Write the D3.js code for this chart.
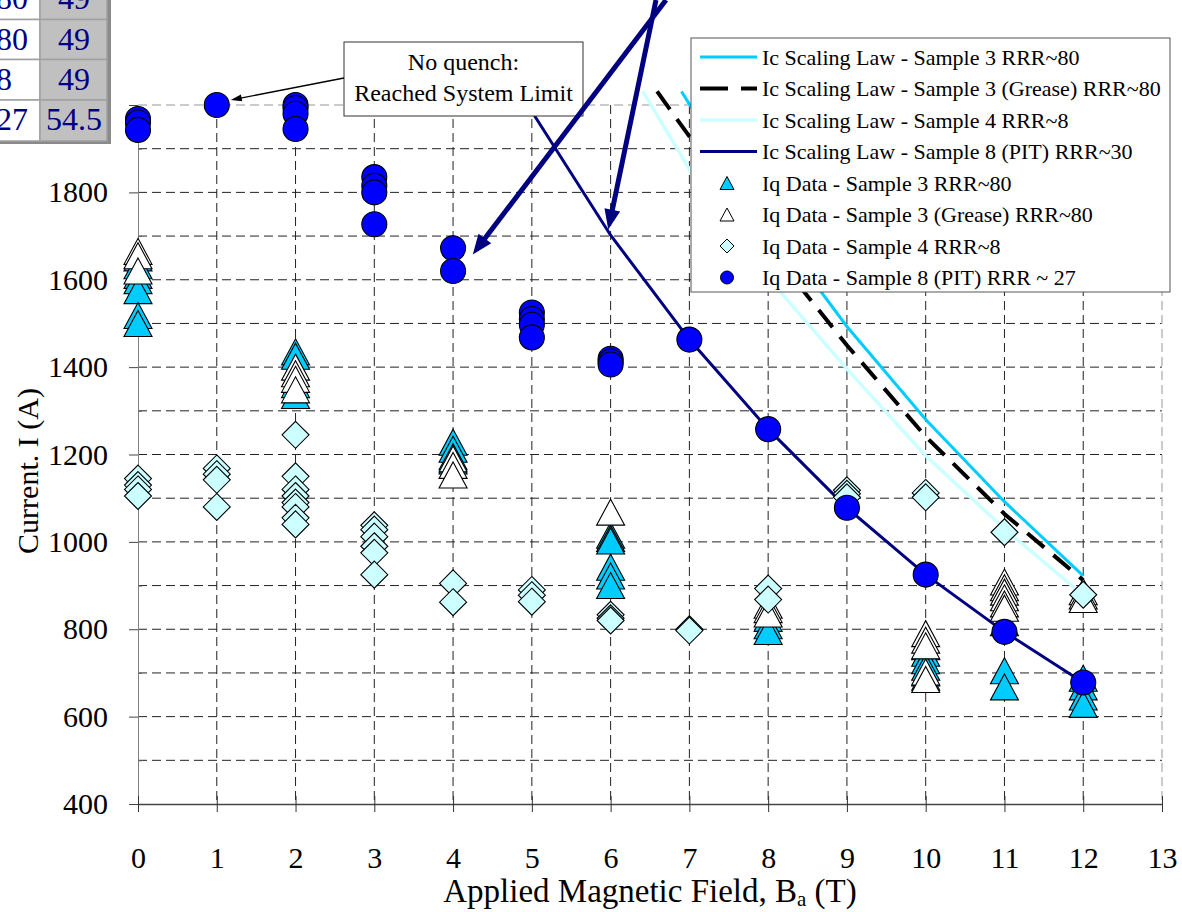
<!DOCTYPE html>
<html>
<head>
<meta charset="utf-8">
<script src="https://cdn.jsdelivr.net/npm/d3@7"></script>
<style>
  body { margin: 0; background: #fff; }
  svg { display: block; }
</style>
</head>
<body>
<svg id="chart" width="1182" height="912"></svg>
<script>
// ---------- data ----------
const FIELD_TICKS = d3.range(0, 14);                       // B (T)
const CURRENT_TICKS = [400, 600, 800, 1000, 1200, 1400, 1600, 1800, 2000];
const CURRENT_MINOR = [500, 700, 900, 1100, 1300, 1500, 1700, 1900];

// Ic scaling laws, [B (T), I (A)]
const icSample3       = [[6.9, 2031], [7, 2002], [8, 1735], [9, 1493], [10, 1280], [11, 1092], [12, 922]];
const icSample3Grease = [[6.59, 2031], [7, 1928], [8, 1675], [9, 1450], [10, 1241], [11, 1064], [12, 912]];
const icSample4       = [[6.41, 2031], [7, 1853], [8, 1605], [9, 1396], [10, 1197], [11, 1030], [12, 878]];
const icSample8       = [[5, 1985], [6, 1702], [7, 1463], [8, 1258], [9, 1078], [10, 925], [11, 794], [12, 678]];

// Quench current data, [B (T), I (A)]
const iqSample3 = [
  [0, 1650], [0, 1632], [0, 1610], [0, 1598], [0, 1575], [0, 1518], [0, 1500],
  [2, 1435], [2, 1425], [2, 1360], [2, 1335],
  [4, 1228], [4, 1212], [4, 1195], [4, 1185],
  [6, 1015], [6, 1008], [6, 1002], [6, 942], [6, 922], [6, 900],
  [8, 825], [8, 808], [8, 795],
  [10, 760], [10, 745], [10, 728], [10, 713], [10, 700], [10, 690],
  [11, 815], [11, 705], [11, 668],
  [12, 688], [12, 668], [12, 645], [12, 628]
];
const iqSample3Grease = [
  [0, 1665], [0, 1655], [0, 1620],
  [2, 1400], [2, 1385], [2, 1372], [2, 1348],
  [4, 1190], [4, 1175], [4, 1153],
  [6, 1068],
  [8, 855], [8, 845], [8, 835],
  [10, 790], [10, 775], [10, 762], [10, 702], [10, 685],
  [11, 908], [11, 895], [11, 885], [11, 872], [11, 858], [11, 848],
  [12, 886], [12, 876], [12, 868]
];
const iqSample4 = [
  [0, 1145], [0, 1130], [0, 1120], [0, 1105],
  [1, 1168], [1, 1155], [1, 1142], [1, 1080],
  [2, 1245], [2, 1150], [2, 1120], [2, 1105], [2, 1090], [2, 1080], [2, 1055], [2, 1040],
  [3, 1038], [3, 1028], [3, 1012], [3, 990], [3, 975], [3, 925],
  [4, 905], [4, 862],
  [5, 890], [5, 878], [5, 863],
  [6, 833], [6, 825], [6, 820],
  [7, 800], [7, 797],
  [8, 893], [8, 868],
  [9, 1118], [9, 1110], [9, 1102],
  [10, 1112], [10, 1102],
  [11, 1022],
  [12, 879]
];
const iqSample8 = [
  [0, 1968], [0, 1960], [0, 1943],
  [1, 2000],
  [2, 2000], [2, 1993], [2, 1980], [2, 1945],
  [3, 1835], [3, 1815], [3, 1800], [3, 1727],
  [4, 1672], [4, 1620],
  [5, 1525], [5, 1510], [5, 1497], [5, 1468],
  [6, 1419], [6, 1413], [6, 1406],
  [7, 1463], [8, 1258], [9, 1078], [10, 925], [11, 794], [12, 678]
];

const legendLabels = [
  "Ic Scaling Law - Sample 3 RRR~80",
  "Ic Scaling Law - Sample 3 (Grease) RRR~80",
  "Ic Scaling Law - Sample 4 RRR~8",
  "Ic Scaling Law - Sample 8 (PIT) RRR~30",
  "Iq Data - Sample 3 RRR~80",
  "Iq Data - Sample 3 (Grease) RRR~80",
  "Iq Data - Sample 4 RRR~8",
  "Iq Data - Sample 8 (PIT) RRR ~ 27"
];

// RRR / value table in the corner
const tableRrr = ["80", "80", "8", "27"];
const tableValue = ["49", "49", "49", "54.5"];

const noteLines = ["No quench:", "Reached System Limit"];

// ---------- drawing ----------
const FONT = "'Liberation Serif','Times New Roman',serif";
const svg = d3.select("#chart");
const x = d3.scaleLinear().domain([0, 13]).range([138, 1162]);
const y = d3.scaleLinear().domain([400, 2000]).range([804, 105]);

// gridlines
const grid = svg.append("g");
grid.selectAll("line.h").data(d3.range(500, 2000, 100)).join("line").attr("class", "h")
  .attr("x1", x(0)).attr("x2", x(13)).attr("y1", d => y(d)).attr("y2", d => y(d))
  .attr("stroke", "#222").attr("stroke-width", 1).attr("stroke-dasharray", "9,5");
grid.selectAll("line.v").data(d3.range(1, 13)).join("line").attr("class", "v")
  .attr("x1", d => x(d)).attr("x2", d => x(d)).attr("y1", y(2000)).attr("y2", y(400))
  .attr("stroke", "#222").attr("stroke-width", 1).attr("stroke-dasharray", "9,5");
// plot-area border (top and right)
grid.append("line").attr("x1", x(0)).attr("x2", x(13)).attr("y1", y(2000)).attr("y2", y(2000))
  .attr("stroke", "#bbb").attr("stroke-width", 1.5).attr("stroke-dasharray", "9,5");
grid.append("line").attr("x1", x(13)).attr("x2", x(13)).attr("y1", y(2000)).attr("y2", y(400))
  .attr("stroke", "#bbb").attr("stroke-width", 1.5).attr("stroke-dasharray", "9,5");

// axes (the 2000 label sits under the corner table, so it is left blank)
const yAxis = svg.append("g").attr("transform", `translate(${x(0)},0)`)
  .call(d3.axisLeft(y).tickValues(CURRENT_TICKS).tickFormat(d => d === 2000 ? "" : d3.format("d")(d))
    .tickSize(9).tickSizeOuter(0).tickPadding(21));
yAxis.attr("font-family", FONT).attr("font-size", 30);
yAxis.select(".domain").attr("stroke", "#808080");
yAxis.selectAll(".tick line").attr("stroke", "#444");
yAxis.selectAll(".tick text").attr("fill", "#000");

const yMinor = svg.append("g").attr("transform", `translate(${x(0)},0)`)
  .call(d3.axisRight(y).tickValues(CURRENT_MINOR).tickSize(4).tickFormat(""));
yMinor.select(".domain").remove();
yMinor.selectAll(".tick line").attr("stroke", "#666");

const xAxis = svg.append("g").attr("transform", `translate(0,${y(400)})`)
  .call(d3.axisBottom(x).tickValues(FIELD_TICKS).tickSize(8).tickSizeOuter(0));
xAxis.attr("font-family", FONT).attr("font-size", 30);
xAxis.select(".domain").attr("stroke", "#444").attr("stroke-width", 1.6);
xAxis.selectAll(".tick line").attr("y1", -8).attr("stroke", "#333");
xAxis.selectAll(".tick text").attr("y", 64).attr("dy", null).attr("fill", "#000");

// axis titles
const xTitle = svg.append("text").attr("x", 650).attr("y", 902)
  .attr("text-anchor", "middle").attr("font-family", FONT).attr("font-size", 33);
xTitle.append("tspan").text("Applied Magnetic Field, B");
xTitle.append("tspan").attr("font-size", 21).attr("dy", 4).text("a");
xTitle.append("tspan").attr("dy", -4).text(" (T)");

svg.append("text").attr("transform", `translate(38,471) rotate(-90)`)
  .attr("text-anchor", "middle").attr("font-family", FONT).attr("font-size", 30)
  .text("Current. I (A)");

// scaling-law curves
const line = d3.line().x(d => x(d[0])).y(d => y(d[1]));
const curves = [
  { data: icSample3, color: "#00CCFF", width: 3, dash: null },
  { data: icSample3Grease, color: "#000", width: 4, dash: "22,12" },
  { data: icSample4, color: "#CCFFFF", width: 3.5, dash: null },
  { data: icSample8, color: "#000080", width: 3, dash: null }
];
svg.append("g").selectAll("path").data(curves).join("path")
  .attr("d", d => line(d.data)).attr("fill", "none")
  .attr("stroke", d => d.color).attr("stroke-width", d => d.width)
  .attr("stroke-dasharray", d => d.dash);

// marker shapes
const triPath = (w, h) => `M0,${-h / 2}L${w / 2},${h / 2}L${-w / 2},${h / 2}Z`;
const diaPath = r => `M0,${-r}L${r},0L0,${r}L${-r},0Z`;

const marks = svg.append("g").attr("stroke", "#000").attr("stroke-width", 1.1);
marks.append("g").selectAll("path").data(iqSample3).join("path")
  .attr("d", triPath(28, 26)).attr("fill", "#00CCFF")
  .attr("transform", d => `translate(${x(d[0])},${y(d[1])})`);
marks.append("g").selectAll("path").data(iqSample3Grease).join("path")
  .attr("d", triPath(28, 26)).attr("fill", "#fff")
  .attr("transform", d => `translate(${x(d[0])},${y(d[1])})`);
marks.append("g").selectAll("path").data(iqSample4).join("path")
  .attr("d", diaPath(13.5)).attr("fill", "#CCFFFF")
  .attr("transform", d => `translate(${x(d[0])},${y(d[1])})`);
marks.append("g").selectAll("circle").data(iqSample8).join("circle")
  .attr("cx", d => x(d[0])).attr("cy", d => y(d[1])).attr("r", 12.5).attr("fill", "#0000FF");

// legend
const lg = svg.append("g");
lg.append("rect").attr("x", 691).attr("y", 38).attr("width", 479).attr("height", 254)
  .attr("fill", "#fff").attr("stroke", "#555").attr("stroke-width", 1);
const rowY = i => 57 + i * 31.5;
lg.selectAll("text").data(legendLabels).join("text")
  .attr("x", 762).attr("y", (d, i) => rowY(i)).attr("dy", "0.35em")
  .attr("font-family", FONT).attr("font-size", 22).text(d => d);
lg.selectAll("line").data(curves).join("line")
  .attr("x1", 700).attr("x2", 757).attr("y1", (d, i) => rowY(i)).attr("y2", (d, i) => rowY(i))
  .attr("stroke", d => d.color).attr("stroke-width", d => d.width)
  .attr("stroke-dasharray", d => d.dash ? "28,13" : null);
const lgMarks = lg.append("g").attr("stroke", "#000").attr("stroke-width", 1);
lgMarks.append("path").attr("d", triPath(14, 13)).attr("fill", "#00CCFF")
  .attr("transform", `translate(727,${rowY(4)})`);
lgMarks.append("path").attr("d", triPath(14, 13)).attr("fill", "#fff")
  .attr("transform", `translate(727,${rowY(5)})`);
lgMarks.append("path").attr("d", diaPath(7)).attr("fill", "#CCFFFF")
  .attr("transform", `translate(727,${rowY(6)})`);
lgMarks.append("circle").attr("cx", 727).attr("cy", rowY(7)).attr("r", 6.5).attr("fill", "#0000FF");

// arrow helper
function arrow(g, x1, y1, x2, y2, width, headLen, headW, color) {
  const a = Math.atan2(y2 - y1, x2 - x1);
  const bx = x2 - headLen * Math.cos(a), by = y2 - headLen * Math.sin(a);
  g.append("line").attr("x1", x1).attr("y1", y1).attr("x2", bx + Math.cos(a)).attr("y2", by + Math.sin(a))
    .attr("stroke", color).attr("stroke-width", width);
  const px = -Math.sin(a) * headW / 2, py = Math.cos(a) * headW / 2;
  g.append("path").attr("d", `M${x2},${y2}L${bx + px},${by + py}L${bx - px},${by - py}Z`).attr("fill", color);
}

// note box
const note = svg.append("g");
note.append("rect").attr("x", 344).attr("y", 42).attr("width", 239).attr("height", 74)
  .attr("fill", "#fff").attr("stroke", "#333").attr("stroke-width", 1);
note.selectAll("text").data(noteLines).join("text")
  .attr("x", 463.5).attr("y", (d, i) => 70 + i * 31).attr("text-anchor", "middle")
  .attr("font-family", FONT).attr("font-size", 24).text(d => d);
arrow(note, 344, 78, x(1) + 14, y(2000) - 5, 1.3, 11, 7, "#000");

// pointer arrows to the PIT data and curve
const pointers = svg.append("g");
arrow(pointers, 666, 0, x(4.25), y(1658), 5, 20, 16, "#000080");
arrow(pointers, 656, 0, x(5.97), y(1715), 5, 20, 16, "#000080");

// corner table
const tb = svg.append("g").attr("font-family", FONT).attr("font-size", 32).attr("fill", "#000080");
const rowTop = [-21, 19.5, 59.5, 100];
const rowH = [40.5, 40, 40.5, 41];
tb.append("rect").attr("x", -5).attr("y", -25).attr("width", 116).attr("height", 169).attr("fill", "#8a8a8a");
tableRrr.forEach((v, i) => {
  tb.append("rect").attr("x", -5).attr("y", rowTop[i]).attr("width", 45).attr("height", rowH[i])
    .attr("fill", "#fff").attr("stroke", "#a0a0a0").attr("stroke-width", 1.5);
  tb.append("rect").attr("x", 40).attr("y", rowTop[i]).attr("width", 67).attr("height", rowH[i])
    .attr("fill", "#c0c0c0").attr("stroke", "#a0a0a0").attr("stroke-width", 1.5);
  tb.append("text").attr("x", -4).attr("y", rowTop[i] + 30).text(v);
  tb.append("text").attr("x", 74).attr("y", rowTop[i] + 30).attr("text-anchor", "middle").text(tableValue[i]);
});
</script>
</body>
</html>
